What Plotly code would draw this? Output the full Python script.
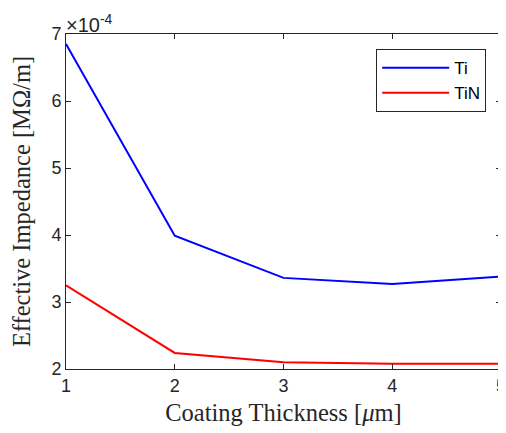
import plotly.graph_objects as go

thickness = [1, 2, 3, 4, 5]
ti_values = [6.85, 3.99, 3.36, 3.27, 3.38]     # x 1e-4 MOhm/m
tin_values = [3.25, 2.24, 2.10, 2.08, 2.08]    # x 1e-4 MOhm/m
x_ticks = [1, 2, 3, 4, 5]
y_ticks = [2, 3, 4, 5, 6, 7]

axis_color = "#262626"
tick_font = dict(family="Liberation Sans, Arial, sans-serif", size=18, color="#262626")
title_font = dict(family="Liberation Serif, Times New Roman, serif", size=24.5, color="#262626")

fig = go.Figure()
fig.add_trace(go.Scatter(x=thickness, y=ti_values, mode="lines", name="Ti",
                         line=dict(color="#0000FF", width=2)))
fig.add_trace(go.Scatter(x=thickness, y=tin_values, mode="lines", name="TiN",
                         line=dict(color="#FF0000", width=2)))

fig.update_layout(
    width=498, height=425,
    margin=dict(l=58, r=5, t=26, b=64),
    paper_bgcolor="white", plot_bgcolor="white",
    showlegend=True,
    legend=dict(x=0.966, y=0.955, xanchor="right", yanchor="top",
                bordercolor=axis_color, borderwidth=1, bgcolor="white",
                font=dict(family="Liberation Sans, Arial, sans-serif", size=17, color="#000"),
                itemwidth=67, tracegroupgap=0),
    xaxis=dict(range=[1, 5], tickvals=x_ticks, ticks="inside", ticklen=5,
               tickcolor=axis_color, showline=True, linecolor=axis_color, linewidth=1,
               mirror="ticks", showgrid=False, zeroline=False, tickfont=tick_font,
               automargin=False, ticklabeloverflow="allow",
               title=dict(text="Coating Thickness [<i>μ</i>m]", font=title_font, standoff=9)),
    yaxis=dict(range=[2, 7], tickvals=y_ticks, ticks="inside", ticklen=5,
               tickcolor=axis_color, showline=True, linecolor=axis_color, linewidth=1,
               mirror="ticks", showgrid=False, zeroline=False, tickfont=tick_font,
               automargin=False, ticklabeloverflow="allow",
               title=dict(text="Effective Impedance [MΩ/m]", font=title_font, standoff=16)),
    annotations=[dict(text="×10<sup>-4</sup>", xref="paper", yref="paper",
                      x=0.0, y=1.0, xanchor="left", yanchor="bottom", showarrow=False,
                      font=dict(family="Liberation Sans, Arial, sans-serif", size=20, color="#262626"),
                      xshift=-2, yshift=-4)],
)

fig.write_html("out.html")
